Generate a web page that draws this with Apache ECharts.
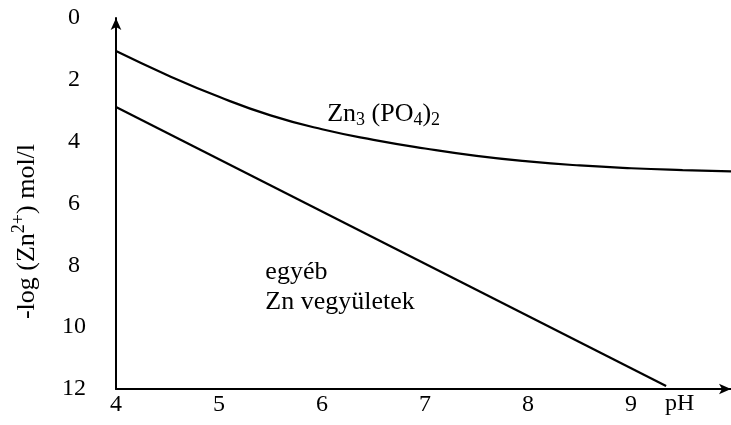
<!DOCTYPE html>
<html><head><meta charset="utf-8">
<script src="https://cdn.jsdelivr.net/npm/echarts@6/dist/echarts.min.js"></script>
<style>html,body{margin:0;padding:0;background:#fff}#c{width:731px;height:425px}</style>
</head><body><div id="c"></div>
<script>
var phCurve = [4, 4.5, 5, 5.5, 6, 6.5, 7, 7.5, 8, 8.5, 9, 9.5, 9.97];
var logZnPhosphate = [1.07, 1.85, 2.55, 3.15, 3.6, 3.94, 4.22, 4.46, 4.64, 4.77, 4.86, 4.92, 4.96];
var phLine = [4, 9.34];
var logZnOther = [2.88, 11.9];
var xTicks = [4, 5, 6, 7, 8, 9];
var yTicks = [0, 2, 4, 6, 8, 10, 12];

var F = '"Liberation Serif","Times New Roman",serif';
var FS = 24, FA = 26;
var chart = echarts.init(document.getElementById('c'));
function richSet(size) {
  return {
    n: {fontFamily: F, fontSize: size, color: '#000', lineHeight: size + 4, verticalAlign: 'bottom'},
    sub: {fontFamily: F, fontSize: Math.round(size * 0.68), color: '#000', lineHeight: Math.round(size * 0.68), verticalAlign: 'bottom', padding: [0, 0, -2, 0]},
    sup: {fontFamily: F, fontSize: Math.round(size * 0.68), color: '#000', lineHeight: Math.round(size * 0.68), verticalAlign: 'top'}
  };
}
chart.setOption({
  animation: false,
  backgroundColor: '#fff',
  grid: {left: 116, top: 18, width: 615, height: 371, containLabel: false, outerBoundsMode: 'none'},
  xAxis: {
    type: 'value', min: 4, max: 9.97, interval: 1, position: 'bottom',
    axisLine: {show: true, onZero: false, lineStyle: {color: '#000', width: 2}, symbol: ['none', 'arrow'], symbolSize: [8, 12]},
    axisTick: {show: false}, splitLine: {show: false},
    axisLabel: {fontFamily: F, fontSize: FS, color: '#000', margin: 4,
      formatter: function (v) { return xTicks.indexOf(v) >= 0 ? String(v) : ''; }}
  },
  yAxis: {
    type: 'value', min: 0, max: 12, interval: 2, inverse: true,
    axisLine: {show: true, onZero: false, lineStyle: {color: '#000', width: 2}, symbol: ['none', 'arrow'], symbolSize: [8, 12]},
    axisTick: {show: false}, splitLine: {show: false},
    axisLabel: {fontFamily: F, fontSize: FS, color: '#000', margin: 42, align: 'center',
      formatter: function (v) { return yTicks.indexOf(v) >= 0 ? String(v) : ''; }},
    name: '{n|-log (Zn}{sup|2+}{n|) mol/l}', nameLocation: 'middle', nameGap: 76, nameRotate: 90,
    nameTextStyle: {rich: richSet(FA), padding: [0, 56, 0, 0]}
  },
  series: [
    {type: 'line', data: phCurve.map(function (x, i) { return [x, logZnPhosphate[i]]; }),
      smooth: true, showSymbol: false, lineStyle: {color: '#000', width: 2.2}},
    {type: 'line', data: phLine.map(function (x, i) { return [x, logZnOther[i]]; }),
      showSymbol: false, lineStyle: {color: '#000', width: 2.2}}
  ]
});
function px(x, y) { return chart.convertToPixel({gridIndex: 0}, [x, y]); }
var p1 = px(6.05, 3.04), p2 = px(5.45, 8.22), p3 = px(5.45, 9.19), p4 = px(9.33, 12.48);
chart.setOption({
  graphic: [
    {type: 'text', x: p1[0], y: p1[1], style: {text: '{n|Zn}{sub|3}{n| (PO}{sub|4}{n|)}{sub|2}', rich: richSet(FA), verticalAlign: 'middle', align: 'left'}},
    {type: 'text', x: p2[0], y: p2[1], style: {text: 'egyéb', font: FA + 'px ' + F, fill: '#000', verticalAlign: 'middle', align: 'left'}},
    {type: 'text', x: p3[0], y: p3[1], style: {text: 'Zn vegyületek', font: FA + 'px ' + F, fill: '#000', verticalAlign: 'middle', align: 'left'}},
    {type: 'text', x: p4[0], y: p4[1], style: {text: 'pH', font: FS + 'px ' + F, fill: '#000', verticalAlign: 'middle', align: 'left'}}
  ]
});
</script></body></html>
